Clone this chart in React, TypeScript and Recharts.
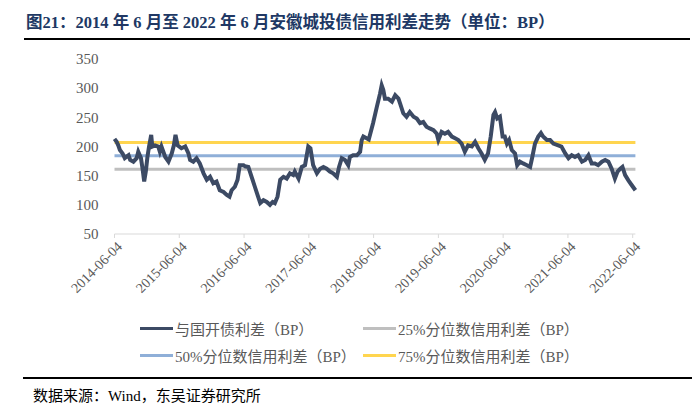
import React from 'react';
import { LineChart, Line, XAxis, YAxis } from 'recharts';

// months elapsed since 2014-06-04
const months = [
  0, 0.4, 0.7, 1.0, 1.5, 1.9, 2.3, 2.6, 2.9, 3.5, 4.1, 4.4, 4.9, 5.2, 5.5, 5.8, 6.1, 6.4, 6.8, 7.0,
  7.5, 8.1, 8.4, 8.7, 9.4, 10.0, 10.6, 11.0, 11.3, 11.7, 12.4, 13.1, 13.7, 14.0, 14.6, 15.2, 15.8, 16.5, 17.1, 17.7,
  18.3, 18.9, 19.5, 20.2, 20.8, 21.3, 21.7, 22.3, 22.8, 23.2, 23.9, 24.2, 24.8, 25.4, 26.0, 26.6, 27.0, 27.6, 28.2, 28.8,
  29.3, 29.7, 30.2, 30.7, 31.3, 31.9, 32.5, 33.1, 33.4, 34.1, 34.7, 35.3, 35.9, 36.3, 36.8, 37.5, 38.1, 38.7, 39.3, 39.9,
  40.5, 41.2, 41.6, 42.1, 42.7, 43.3, 43.6, 44.2, 44.9, 45.5, 45.8, 46.1, 46.7, 47.1, 47.9, 48.6, 49.2, 49.5, 49.8, 50.1,
  50.7, 51.4, 52.0, 52.6, 52.9, 53.5, 54.1, 54.7, 55.4, 56.0, 56.6, 57.2, 57.8, 58.4, 59.1, 59.7, 60.0, 60.6, 61.2, 61.8,
  62.5, 63.1, 63.7, 64.3, 64.9, 65.5, 66.2, 66.8, 67.4, 68.0, 68.6, 69.2, 69.7, 70.2, 70.5, 70.9, 71.4, 71.9, 72.3, 72.7,
  73.1, 73.6, 74.2, 74.6, 75.1, 75.7, 76.4, 77.0, 77.4, 77.9, 78.5, 79.0, 79.4, 80.1, 80.7, 81.3, 82.2, 82.8, 83.5, 84.1,
  84.7, 85.3, 85.9, 86.6, 87.2, 87.8, 88.4, 89.0, 89.6, 90.3, 90.9, 91.5, 92.1, 92.7, 93.2, 93.7, 94.1, 94.6, 95.2, 95.8,
  96.5,
];

// 与国开债利差 (BP)
const spread = [
  213, 208, 202, 194, 188, 180, 183, 185, 177, 174, 180, 191, 180, 162, 140, 157, 182, 200, 220, 200,
  202, 200, 191, 200, 182, 174, 188, 202, 220, 202, 197, 200, 188, 177, 174, 180, 171, 154, 143, 148,
  137, 140, 125, 122, 117, 114, 125, 131, 143, 168, 168, 166, 165, 148, 131, 114, 103, 108, 105, 100,
  105, 103, 114, 143, 148, 145, 154, 151, 157, 145, 165, 168, 200, 197, 168, 154, 162, 165, 162, 157,
  154, 148, 165, 180, 177, 168, 182, 185, 185, 191, 211, 217, 214, 212, 240, 268, 291, 305, 297, 282,
  282, 277, 288, 282, 274, 257, 251, 259, 251, 248, 240, 242, 234, 231, 228, 222, 211, 225, 222, 225,
  217, 214, 211, 205, 191, 202, 200, 208, 197, 188, 177, 188, 217, 254, 259, 248, 251, 217, 217, 205,
  211, 194, 188, 168, 174, 171, 168, 165, 182, 205, 217, 223, 217, 211, 211, 205, 202, 200, 188, 180,
  185, 182, 185, 174, 177, 185, 171, 171, 168, 174, 177, 174, 162, 145, 157, 162, 165, 151, 142, 134,
  125,
];

const P25 = 161;
const P50 = 184;
const P75 = 207;

const tickLabels = [
  '2014-06-04', '2015-06-04', '2016-06-04', '2017-06-04', '2018-06-04',
  '2019-06-04', '2020-06-04', '2021-06-04', '2022-06-04',
];
const tickMonths = tickLabels.map((_, i) => i * 12);
const yTicks = [50, 100, 150, 200, 250, 300, 350];

const legendItems = [
  { name: '与国开债利差（BP）', color: '#3C4A64' },
  { name: '25%分位数信用利差（BP）', color: '#BFBFBF' },
  { name: '50%分位数信用利差（BP）', color: '#8FAFD8' },
  { name: '75%分位数信用利差（BP）', color: '#FFD54F' },
];

const FONT = "'Liberation Serif', 'Times New Roman', 'Noto Sans CJK SC', serif";

const data = months.map((m, i) => ({ m, spread: spread[i], p25: P25, p50: P50, p75: P75 }));

const DateTick = ({ x, y, payload }: any) => {
  const idx = tickMonths.indexOf(payload.value);
  return (
    <text
      x={0}
      y={0}
      transform={`translate(${x + 5},${y + 4}) rotate(-45)`}
      textAnchor="end"
      dy="0.35em"
      fontSize={14}
      fill="#595959"
      fontFamily={FONT}
    >
      {tickLabels[idx]}
    </text>
  );
};

export default function App() {
  return (
    <div style={{ position: 'absolute', left: 0, top: 0, width: 700, height: 408, background: '#fff', fontFamily: FONT }}>
      <div style={{ position: 'absolute', left: 26, top: 9, fontSize: 16.5, fontWeight: 'bold', color: '#203864', whiteSpace: 'nowrap' }}>
        图21：2014 年 6 月至 2022 年 6 月安徽城投债信用利差走势（单位：BP）
      </div>
      <div style={{ position: 'absolute', left: 24, top: 38, width: 666, height: 2, background: '#000' }} />

      <div style={{ position: 'absolute', left: 0, top: 0 }}>
        <LineChart width={700} height={408} data={data} margin={{ top: 59, right: 64.6, left: 74.5, bottom: 104 }}>
          <XAxis
            type="number"
            dataKey="m"
            domain={[0, 96.5]}
            ticks={tickMonths}
            interval={0}
            height={70}
            tickSize={4}
            tickMargin={2}
            stroke="#D9D9D9"
            tick={<DateTick />}
          />
          <YAxis
            domain={[50, 350]}
            ticks={yTicks}
            width={40}
            axisLine={false}
            tickLine={false}
            tickSize={0}
            tickMargin={16}
            tick={{ fontSize: 15, fill: '#595959', fontFamily: FONT }}
          />
          <Line dataKey="p25" stroke="#BFBFBF" strokeWidth={3} dot={false} isAnimationActive={false} />
          <Line dataKey="p50" stroke="#8FAFD8" strokeWidth={3} dot={false} isAnimationActive={false} />
          <Line dataKey="p75" stroke="#FFD54F" strokeWidth={3} dot={false} isAnimationActive={false} />
          <Line dataKey="spread" stroke="#3C4A64" strokeWidth={4} dot={false} isAnimationActive={false} />
        </LineChart>
      </div>

      {legendItems.map((item, i) => {
        const col = i % 2;
        const row = Math.floor(i / 2);
        return (
          <div
            key={item.name}
            style={{
              position: 'absolute',
              left: col === 0 ? 140 : 363,
              top: row === 0 ? 318 : 345,
              height: 20,
              display: 'flex',
              alignItems: 'center',
              fontSize: 15,
              color: '#595959',
              whiteSpace: 'nowrap',
            }}
          >
            <span style={{ display: 'inline-block', width: 33, height: 3, background: item.color, marginRight: 2 }} />
            {item.name}
          </div>
        );
      })}

      <div style={{ position: 'absolute', left: 23, top: 377, width: 669, height: 2, background: '#000' }} />
      <div style={{ position: 'absolute', left: 33, top: 384, fontSize: 15, color: '#000', whiteSpace: 'nowrap' }}>
        数据来源：Wind，东吴证券研究所
      </div>
    </div>
  );
}
